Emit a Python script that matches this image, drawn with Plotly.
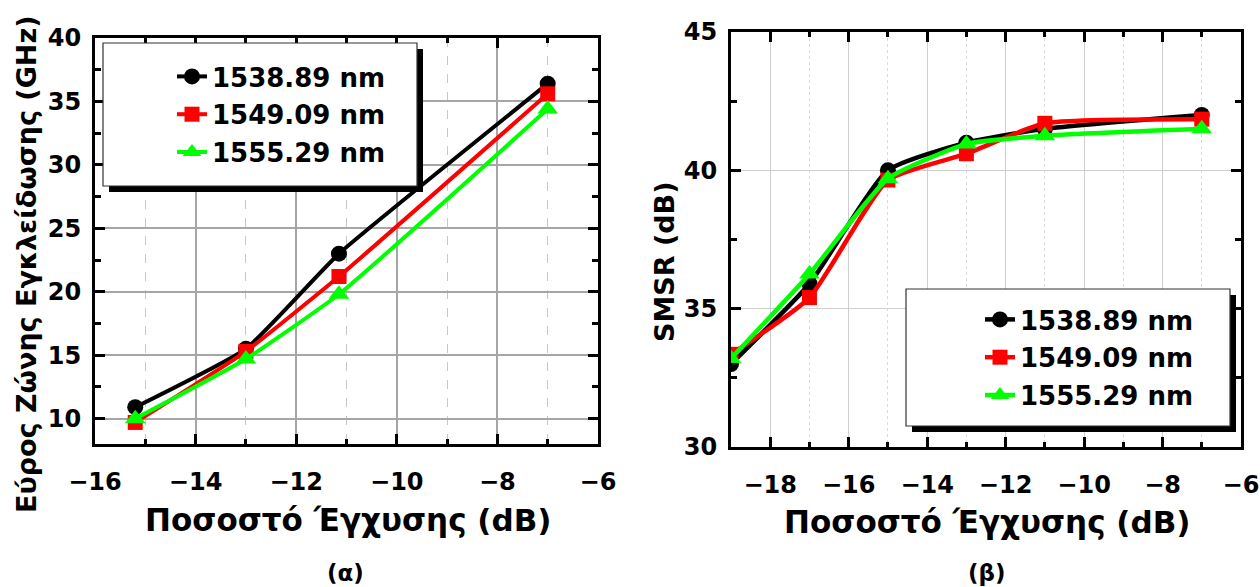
import plotly.graph_objects as go

W, H = 1260, 587

# ---- data: panel (α) ----
x_a = [-15.2, -13.0, -11.15, -7.0]
bw_1538 = [10.9, 15.5, 23.0, 36.4]
bw_1549 = [9.7, 15.3, 21.2, 35.6]
bw_1555 = [10.0, 14.7, 19.8, 34.4]

# ---- data: panel (β) ----
x_b = [-19, -17, -15, -13, -11, -7]
smsr_1538 = [33.0, 35.9, 40.0, 41.0, 41.5, 42.0]
smsr_1549 = [33.35, 35.4, 39.65, 40.6, 41.7, 41.85]
smsr_1555 = [33.2, 36.25, 39.7, 40.95, 41.25, 41.5]

series_names = ["1538.89 nm", "1549.09 nm", "1555.29 nm"]
colors = ["#000000", "#ff0000", "#00ff00"]
symbols = ["circle", "square", "triangle-up"]
msizes = [16, 15, 18]

FONT = "DejaVu Sans"

fig = go.Figure()

for name, ys, c, s, ms in zip(series_names, [bw_1538, bw_1549, bw_1555], colors, symbols, msizes):
    fig.add_trace(go.Scatter(
        x=x_a, y=ys, name=name, mode="lines+markers",
        line=dict(color=c, width=4, shape="spline", smoothing=0.4),
        marker=dict(color=c, symbol=s, size=ms),
        xaxis="x", yaxis="y", legend="legend", legendgroup="a" + name,
        cliponaxis=True,
    ))

for name, ys, c, s, ms in zip(series_names, [smsr_1538, smsr_1549, smsr_1555], colors, symbols, msizes):
    fig.add_trace(go.Scatter(
        x=x_b, y=ys, name=name, mode="lines+markers",
        line=dict(color=c, width=4.5, shape="spline", smoothing=0.5),
        marker=dict(color=c, symbol=s, size=ms),
        xaxis="x2", yaxis="y2", legend="legend2", legendgroup="b" + name,
        cliponaxis=True,
    ))

def px_x(p):
    return p / W

def px_y(p):
    return 1 - p / H

tickfont = dict(family=FONT, size=24, color="black", weight="bold")

axis_common = dict(
    showline=True, linecolor="black", linewidth=3, mirror="allticks",
    ticks="inside", tickwidth=2.5, ticklen=10, tickcolor="black",
    tickfont=tickfont, zeroline=False, automargin=False,
)

fig.update_layout(
    width=W, height=H,
    margin=dict(l=0, r=0, t=0, b=0),
    paper_bgcolor="white", plot_bgcolor="white",
    font=dict(family=FONT, color="black", weight="bold"),
    xaxis=dict(
        domain=[px_x(95), px_x(598)], range=[-16, -6], anchor="y",
        tick0=-16, dtick=2, ticklabelstandoff=14,
        showgrid=True, gridcolor="#a6a6a6", gridwidth=1.5,
        minor=dict(dtick=1, ticks="inside", ticklen=5, tickwidth=2.5, tickcolor="black",
                   showgrid=True, gridcolor="#c8c8c8", gridwidth=1.2, griddash="dash"),
        **axis_common,
    ),
    yaxis=dict(
        domain=[px_y(444), px_y(38)], range=[8, 40], anchor="x",
        tick0=10, dtick=5, ticklabelstandoff=6,
        showgrid=True, gridcolor="#a6a6a6", gridwidth=1.5,
        minor=dict(dtick=2.5, ticks="inside", ticklen=6, tickwidth=2.5, tickcolor="black",
                   showgrid=False),
        **axis_common,
    ),
    xaxis2=dict(
        domain=[px_x(731), px_x(1241)], range=[-19, -6], anchor="y2",
        tick0=-18, dtick=2, ticklabelstandoff=14,
        showgrid=True, gridcolor="#cfcfcf", gridwidth=1,
        minor=dict(dtick=1, ticks="inside", ticklen=5, tickwidth=2.5, tickcolor="black",
                   showgrid=True, gridcolor="#dadada", gridwidth=1, griddash="dot"),
        **axis_common,
    ),
    yaxis2=dict(
        domain=[px_y(447), px_y(32)], range=[30, 45], anchor="x2",
        tick0=30, dtick=5, ticklabelstandoff=6,
        showgrid=True, gridcolor="#cfcfcf", gridwidth=1,
        minor=dict(dtick=2.5, ticks="inside", ticklen=6, tickwidth=2.5, tickcolor="black",
                   showgrid=False),
        **axis_common,
    ),
    legend=dict(
        x=px_x(172), y=px_y(53), xanchor="left", yanchor="top",
        bgcolor="rgba(0,0,0,0)", borderwidth=0,
        font=dict(family=FONT, size=26, color="black", weight="bold"),
        tracegroupgap=1, itemsizing="trace",
    ),
    legend2=dict(
        x=px_x(980), y=px_y(296), xanchor="left", yanchor="top",
        bgcolor="rgba(0,0,0,0)", borderwidth=0,
        font=dict(family=FONT, size=26, color="black", weight="bold"),
        tracegroupgap=1, itemsizing="trace",
    ),
    showlegend=True,
)

# legend boxes with drop shadow (layout decoration)
for (x0, y0, x1, y1, sx, sy) in [(103, 43, 417, 186, 6, 6), (906, 289, 1230, 426, 6, 6)]:
    fig.add_shape(type="rect", xref="paper", yref="paper",
                  x0=px_x(x0 + sx), x1=px_x(x1 + sx), y0=px_y(y1 + sy), y1=px_y(y0 + sy),
                  fillcolor="black", line=dict(width=0), layer="above")
    fig.add_shape(type="rect", xref="paper", yref="paper",
                  x0=px_x(x0), x1=px_x(x1), y0=px_y(y1), y1=px_y(y0),
                  fillcolor="white", line=dict(color="#333333", width=1.2), layer="above")

title_font = dict(family=FONT, size=31, color="black", weight="bold")
annots = [
    dict(text="Ποσοστό Έγχυσης (dB)", x=px_x(348), y=px_y(520), font=title_font),
    dict(text="Ποσοστό Έγχυσης (dB)", x=px_x(987), y=px_y(522), font=title_font),
    dict(text="Εύρος Ζώνης Εγκλείδωσης (GHz)", x=px_x(26), y=px_y(264), textangle=-90,
         font=dict(family=FONT, size=27, color="black", weight="bold")),
    dict(text="SMSR (dB)", x=px_x(664), y=px_y(262), textangle=-90,
         font=dict(family=FONT, size=27, color="black", weight="bold")),
    dict(text="(α)", x=px_x(345), y=px_y(573), font=dict(family=FONT, size=23, color="black", weight="bold")),
    dict(text="(β)", x=px_x(987), y=px_y(573), font=dict(family=FONT, size=23, color="black", weight="bold")),
]
for a in annots:
    fig.add_annotation(xref="paper", yref="paper", showarrow=False,
                       xanchor="center", yanchor="middle", **a)

fig.write_html("out.html", config={"displayModeBar": False},
               post_script="document.body.style.margin='0';document.body.style.overflow='hidden';")
